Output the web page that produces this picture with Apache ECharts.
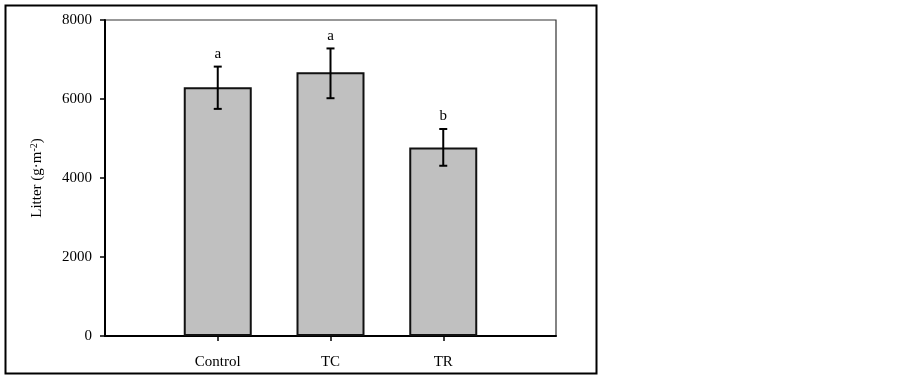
<!DOCTYPE html>
<html>
<head>
<meta charset="utf-8">
<script src="https://cdn.jsdelivr.net/npm/echarts@6/dist/echarts.min.js"></script>
<style>
html, body { margin: 0; padding: 0; background: #fff; }
#main { width: 902px; height: 378px; }
</style>
</head>
<body>
<div id="main"></div>
<script>
var categories = ['Control', 'TC', 'TR'];
var means = [6300, 6680, 4770];
var errHi = [6820, 7280, 5240];
var errLo = [5750, 6020, 4310];
var letters = ['a', 'a', 'b'];
var yTicks = [0, 2000, 4000, 6000, 8000];

var font = 'Liberation Serif';

// pad the category axis so the bars sit at 1/4, 2/4, 3/4 of the plot
var axisCats = [''].concat(categories, ['']);
var barData = [null].concat(means, [null]);
var errData = categories.map(function (c, i) {
  return [i + 1, errLo[i], errHi[i], letters[i]];
});

var chart = echarts.init(document.getElementById('main'));

var option = {
  animation: false,
  backgroundColor: '#fff',
  graphic: [{
    type: 'rect',
    shape: { x: 5.5, y: 5.5, width: 591, height: 368 },
    style: { fill: 'none', stroke: '#000', lineWidth: 2 },
    z: 100
  }],
  grid: {
    left: 105, right: 346, top: 20, bottom: 42,
    show: true, borderColor: '#333', borderWidth: 1.2, backgroundColor: '#fff'
  },
  xAxis: {
    type: 'category',
    data: axisCats,
    boundaryGap: false,
    axisLine: { lineStyle: { color: '#000', width: 2 } },
    axisTick: {
      length: 5,
      lineStyle: { color: '#000', width: 1.5 },
      interval: function (i) { return i > 0 && i < axisCats.length - 1; }
    },
    axisLabel: { color: '#000', fontFamily: font, fontSize: 15, margin: 19, interval: 0 },
    splitLine: { show: false }
  },
  yAxis: {
    type: 'value',
    min: yTicks[0],
    max: yTicks[yTicks.length - 1],
    interval: 2000,
    name: '{n|Litter (g·m}{s|-2}{n|)}',
    nameLocation: 'middle',
    nameGap: 60,
    nameTextStyle: {
      rich: {
        n: { fontFamily: font, fontSize: 15, color: '#000' },
        s: { fontFamily: font, fontSize: 10, color: '#000', verticalAlign: 'top', padding: [0, 0, 6, 0] }
      }
    },
    axisLine: { show: true, lineStyle: { color: '#000', width: 2 } },
    axisTick: { show: true, length: 5, lineStyle: { color: '#000', width: 1.5 } },
    axisLabel: {
      color: '#000', fontFamily: font, fontSize: 15, margin: 13,
      formatter: function (v) { return String(v); }
    },
    splitLine: { show: false }
  },
  series: [
    {
      type: 'bar',
      data: barData,
      barWidth: 68,
      itemStyle: { color: '#c0c0c0', borderColor: '#111', borderWidth: 2 },
      z: 2
    },
    {
      type: 'custom',
      data: errData,
      z: 5,
      renderItem: function (params, api) {
        var x = api.value(0);
        var lo = api.coord([x, api.value(1)]);
        var hi = api.coord([x, api.value(2)]);
        var cap = 4;
        var style = { stroke: '#000', lineWidth: 2 };
        return {
          type: 'group',
          children: [
            { type: 'line', shape: { x1: hi[0], y1: hi[1], x2: lo[0], y2: lo[1] }, style: style },
            { type: 'line', shape: { x1: hi[0] - cap, y1: hi[1], x2: hi[0] + cap, y2: hi[1] }, style: style },
            { type: 'line', shape: { x1: lo[0] - cap, y1: lo[1], x2: lo[0] + cap, y2: lo[1] }, style: style },
            {
              type: 'text',
              style: {
                text: errData[params.dataIndex][3],
                x: hi[0], y: hi[1] - 5,
                align: 'center', verticalAlign: 'bottom',
                font: '15px "Liberation Serif"', fill: '#000'
              }
            }
          ]
        };
      }
    }
  ]
};

chart.setOption(option);
</script>
</body>
</html>
